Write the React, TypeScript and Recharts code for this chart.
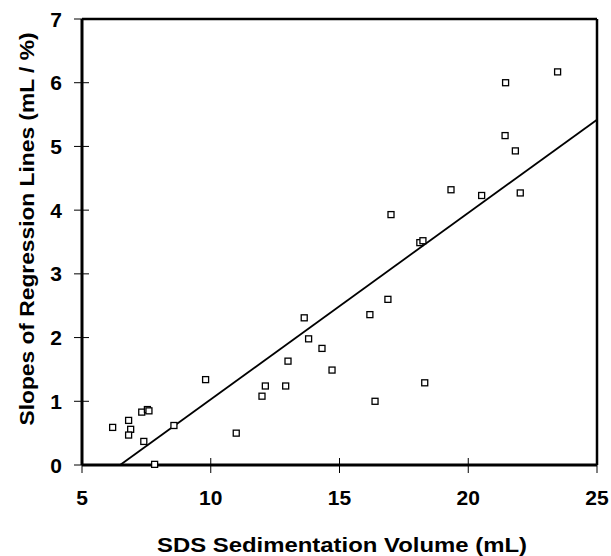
import { ScatterChart, Scatter, XAxis, YAxis, ReferenceLine } from 'recharts'

// SDS sedimentation volume (mL) vs slope of regression line (mL / %)
const sdsVolume = [
  6.19, 6.81, 6.89, 6.81, 7.32, 7.54, 7.6, 7.4, 7.82, 8.57,
  9.8, 10.99, 11.99, 12.12, 12.91, 13.0, 13.63, 13.8, 14.32, 14.71,
  16.18, 16.38, 16.88, 17.0, 18.12, 18.24, 18.31, 19.33, 20.52, 21.43,
  21.45, 21.83, 22.02, 23.47,
]
const slopes = [
  0.59, 0.7, 0.56, 0.47, 0.83, 0.87, 0.85, 0.37, 0.01, 0.62,
  1.34, 0.5, 1.08, 1.24, 1.24, 1.63, 2.31, 1.98, 1.83, 1.49,
  2.36, 1.0, 2.6, 3.93, 3.49, 3.52, 1.29, 4.32, 4.23, 5.17,
  6.0, 4.93, 4.27, 6.17,
]
const fitX = [6.48, 25]
const fitY = [0, 5.42]
const xTicks = [5, 10, 15, 20, 25]
const yTicks = [0, 1, 2, 3, 4, 5, 6, 7]

const points = sdsVolume.map((x, i) => ({ x, y: slopes[i] }))
const fitLine = fitX.map((x, i) => ({ x, y: fitY[i] }))

const FONT = '"Liberation Sans", Arial, sans-serif'

const XTick = ({ x, y, payload }: any) => (
  <g>
    <line x1={x} x2={x} y1={y - 7} y2={y + 8} stroke="#000" strokeWidth={1} />
    <text x={x} y={y + 40} textAnchor="middle" fontFamily={FONT} fontWeight="bold" fontSize={21} fill="#000">
      {payload.value}
    </text>
  </g>
)

const YTick = ({ x, y, payload }: any) => (
  <g>
    <line x1={x - 8} x2={x + 7} y1={y} y2={y} stroke="#000" strokeWidth={1} />
    <text x={x - 20} y={y + 7.5} textAnchor="end" fontFamily={FONT} fontWeight="bold" fontSize={21} fill="#000">
      {payload.value}
    </text>
  </g>
)

const Square = ({ cx, cy }: any) => (
  <rect x={cx - 3} y={cy - 3} width={6} height={6} fill="#fff" stroke="#000" strokeWidth={1.3} />
)

export default function App() {
  return (
    <div style={{ position: 'absolute', left: 0, top: 0, background: '#fff' }}>
      <ScatterChart width={611} height={556} margin={{ top: 19, right: 14, left: 0, bottom: 0 }}>
        <XAxis
          type="number"
          dataKey="x"
          domain={[5, 25]}
          ticks={xTicks}
          tick={<XTick />}
          tickLine={false}
          tickSize={0}
          tickMargin={0}
          height={91}
          axisLine={{ stroke: '#000', strokeWidth: 3 }}
        />
        <YAxis
          type="number"
          dataKey="y"
          domain={[0, 7]}
          ticks={yTicks}
          tick={<YTick />}
          tickLine={false}
          tickSize={0}
          tickMargin={0}
          width={82}
          axisLine={{ stroke: '#000', strokeWidth: 3 }}
        />
        <ReferenceLine y={7} stroke="#000" strokeWidth={2.5} />
        <ReferenceLine x={25} stroke="#000" strokeWidth={2.5} />
        <Scatter
          data={fitLine}
          line={{ stroke: '#000', strokeWidth: 1.8 }}
          shape={() => null}
          isAnimationActive={false}
        />
        <Scatter data={points} shape={<Square />} isAnimationActive={false} />
        <text
          x={342}
          y={552}
          textAnchor="middle"
          textLength={370}
          lengthAdjust="spacingAndGlyphs"
          fontFamily={FONT}
          fontWeight="bold"
          fontSize={21}
          fill="#000"
        >
          SDS Sedimentation Volume (mL)
        </text>
        <text
          x={34}
          y={229}
          transform="rotate(-90 34 229)"
          textAnchor="middle"
          textLength={393}
          lengthAdjust="spacingAndGlyphs"
          fontFamily={FONT}
          fontWeight="bold"
          fontSize={21}
          fill="#000"
        >
          Slopes of Regression Lines (mL / %)
        </text>
      </ScatterChart>
    </div>
  )
}
